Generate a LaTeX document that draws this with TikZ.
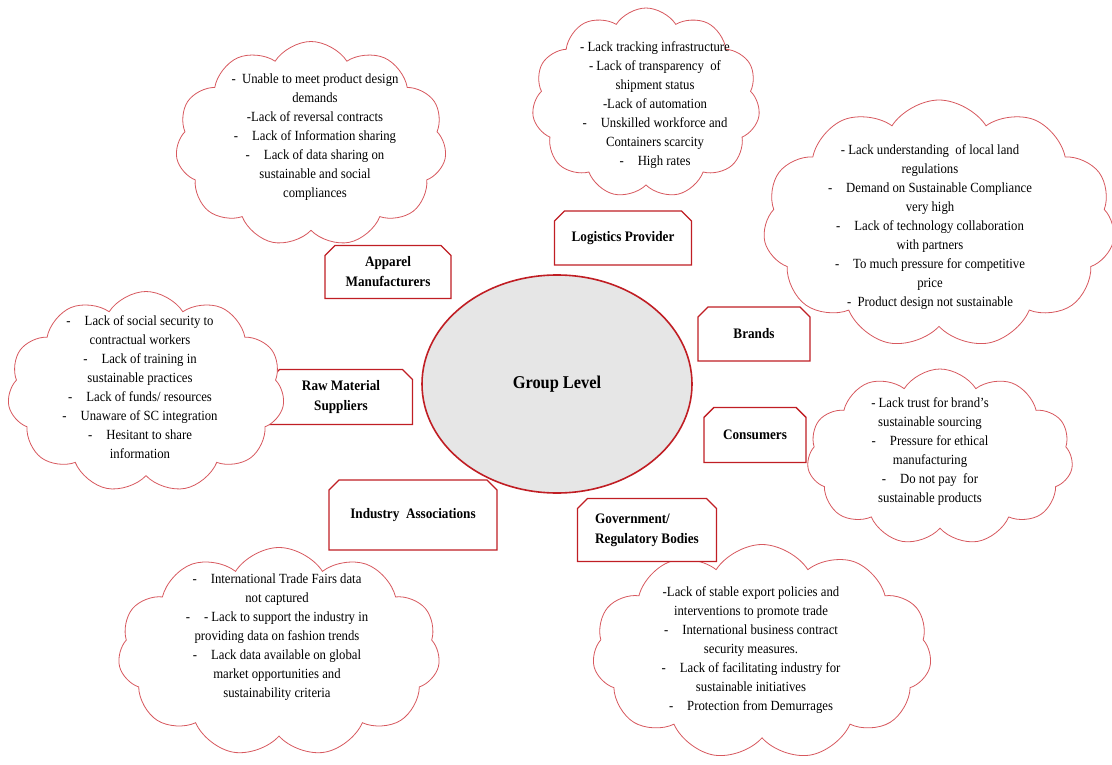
\documentclass[tikz,border=0pt]{standalone}
\usepackage{fontspec}
\setmainfont{Liberation Serif}[FakeStretch=0.91]
\usetikzlibrary{shapes.geometric, shapes.symbols, shapes.misc}

\definecolor{boxred}{RGB}{192,30,36}
\definecolor{puffred}{RGB}{215,88,94}
\definecolor{hubgray}{RGB}{230,230,230}

\begin{document}
\begin{tikzpicture}[
    x=1pt, y=-1pt,
    hub/.style = {ellipse, draw=boxred, line width=1.6pt, fill=hubgray, minimum width=270pt, minimum height=218pt, font=\fontsize{18}{21}\selectfont\bfseries},
    actor/.style = {chamfered rectangle, chamfered rectangle corners={north west,north east}, chamfered rectangle xsep=5pt, chamfered rectangle ysep=5pt, draw=boxred, line width=1.4pt, fill=white, inner sep=0pt, align=center, font=\fontsize{14.5}{20}\selectfont\bfseries},
    puff/.style = {cloud, cloud puffs=11, cloud puff arc=115, cloud ignores aspect, draw=puffred, line width=0.8pt, fill=white, inner sep=0pt},
    issues/.style = {inner sep=0pt, align=center, font=\fontsize{14}{19}\selectfont}
]
\useasboundingbox (0,0) rectangle (1112,765);

% Centre
\node [hub] (group) at (557,384) {Group Level};

% Raw material box sits under its cloud
\node [actor, minimum width=143pt, minimum height=55pt] (raw) at (341,397) {Raw Material\\Suppliers};

% Clouds
\node [puff, minimum width=271pt, minimum height=205pt] (appcloud) at (311,144) {};
\node [puff, minimum width=228pt, minimum height=190pt] (logcloud) at (646,103) {};
\node [puff, minimum width=352pt, minimum height=248pt] (brandcloud) at (939,224) {};
\node [puff, minimum width=277pt, minimum height=201pt] (rawcloud) at (146,392) {};
\node [puff, minimum width=266pt, minimum height=176pt] (conscloud) at (940,457) {};
\node [puff, minimum width=322pt, minimum height=209pt] (indcloud) at (279,652) {};
\node [puff, minimum width=339pt, minimum height=215pt] (govcloud) at (762,652) {};

% Stakeholder boxes
\node [actor, minimum width=126pt, minimum height=53pt] (apparel) at (388,272) {Apparel\\Manufacturers};
\node [actor, minimum width=137pt, minimum height=54pt] (logistics) at (623,238) {Logistics Provider};
\node [actor, minimum width=112pt, minimum height=54pt] (brands) at (754,334) {Brands};
\node [actor, minimum width=102pt, minimum height=55pt] (consumers) at (755,435) {Consumers};
\node [actor, minimum width=168pt, minimum height=70pt] (industry) at (413,515) {Industry\ \ Associations};
\node [actor, minimum width=139pt, minimum height=63pt, align=left] (govt) at (647,530) {Government/\\Regulatory Bodies};

% Cloud texts
\node [issues] (appissues) at (315,137) {- \ Unable to meet product design\\demands\\-Lack of reversal contracts\\-\quad Lack of Information sharing\\-\quad Lack of data sharing on\\sustainable and social\\compliances};
\node [issues] (logissues) at (655,105) {- Lack tracking infrastructure\\- Lack of transparency\ \ of\\shipment status\\-Lack of automation\\-\quad Unskilled workforce and\\Containers scarcity\\-\quad High rates};
\node [issues] (brandissues) at (930,227) {- Lack understanding\ \ of local land\\regulations\\-\quad Demand on Sustainable Compliance\\very high\\-\quad Lack of technology collaboration\\with partners\\-\quad To much pressure for competitive\\price\\- \ Product design not sustainable};
\node [issues] (rawissues) at (140,387) {-\quad Lack of social security to\\contractual workers\\-\quad Lack of training in\\sustainable practices\\-\quad Lack of funds/ resources\\-\quad Unaware of SC integration\\-\quad Hesitant to share\\information};
\node [issues] (consissues) at (930,452) {- Lack trust for brand’s\\sustainable sourcing\\-\quad Pressure for ethical\\manufacturing\\-\quad Do not pay\ \ for\\sustainable products};
\node [issues] (indissues) at (277,637) {-\quad International Trade Fairs data\\not captured\\-\quad - Lack to support the industry in\\providing data on fashion trends\\-\quad Lack data available on global\\market opportunities and\\sustainability criteria};
\node [issues] (govissues) at (751,650) {-Lack of stable export policies and\\interventions to promote trade\\-\quad International business contract\\security measures.\\-\quad Lack of facilitating industry for\\sustainable initiatives\\-\quad Protection from Demurrages};

\end{tikzpicture}
\end{document}
